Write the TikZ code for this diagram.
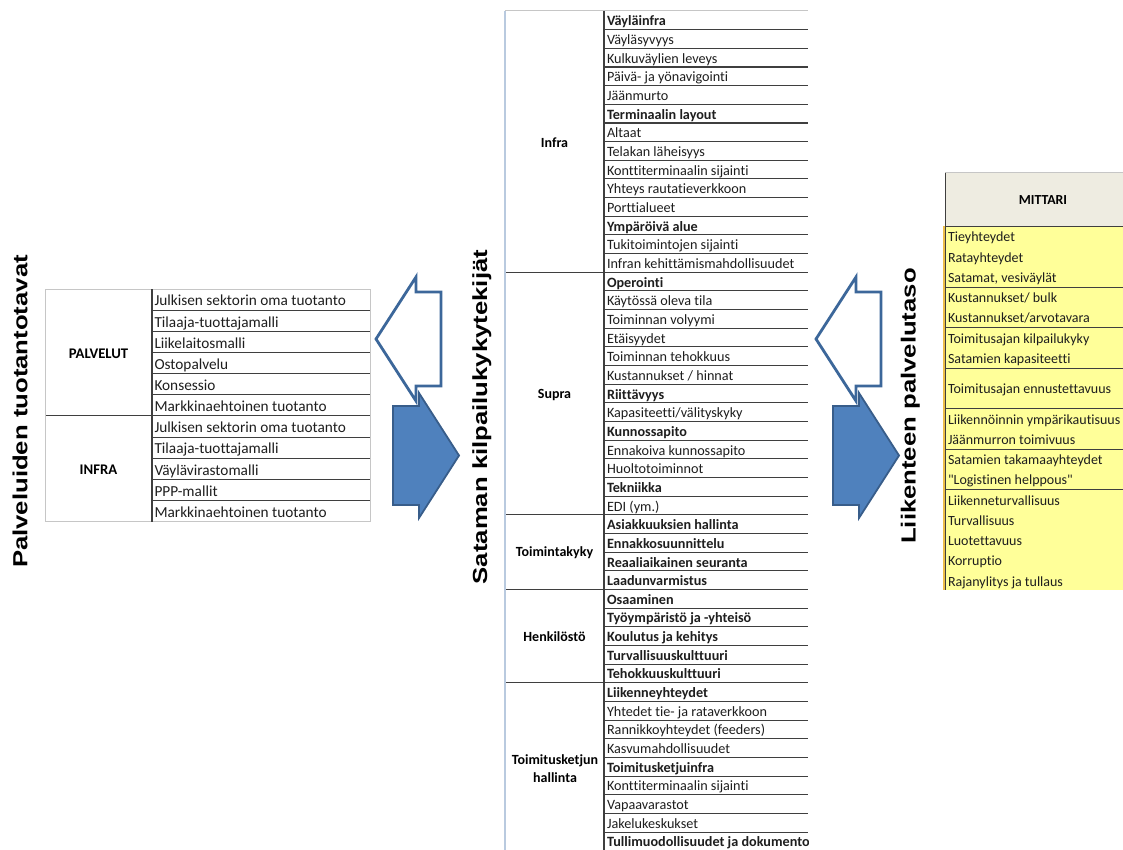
\documentclass[tikz,border=0pt]{standalone}
\usepackage{fontspec}
\setmainfont{Carlito}[Ligatures=NoCommon]
\newfontfamily\titlefont{Liberation Sans}
\usepackage{graphicx}

\definecolor{linedark}{HTML}{3F3F3F}
\definecolor{lightrule}{HTML}{C6C6C6}
\definecolor{leftblue}{HTML}{B9CADF}
\definecolor{txt}{HTML}{1E1E1E}
\definecolor{arrowedge}{HTML}{3C679A}
\definecolor{arrowdark}{HTML}{385D8A}
\definecolor{arrowfill}{HTML}{4F81BD}
\definecolor{yel}{HTML}{FFFF99}
\definecolor{hdrfill}{HTML}{EEECE1}
\definecolor{goldstrip}{HTML}{EDBE4A}

% straight double quote glyph, bypassing the TeX ligature mapping
\newcommand\straightdq{\XeTeXglyph\XeTeXcharglyph"22\relax}

\begin{document}
\begin{tikzpicture}[x=1pt,y=-1pt,
  every node/.style={inner sep=0pt, outer sep=0pt},
  lt/.style={anchor=base west, font=\fontsize{15.3}{18}\selectfont, text=txt},
  mt/.style={anchor=base west, font=\fontsize{14.2}{17}\selectfont, text=txt},
  rt/.style={anchor=base west, font=\fontsize{14}{17}\selectfont, text=txt},
  grp/.style={font=\bfseries\fontsize{14}{18}\selectfont, align=center, text=black},
  titletext/.style={rotate=90, anchor=base, font=\titlefont\bfseries\fontsize{20.4}{24}\selectfont, text=black},
  dk/.style={draw=linedark, line width=1.1pt},
  lg/.style={draw=lightrule, line width=1pt},
  hollowarrow/.style={draw=arrowedge, line width=2.8pt, fill=white, line join=miter},
  solidarrow/.style={draw=arrowdark, line width=1.8pt, fill=arrowfill, line join=miter}
]
\useasboundingbox (0,0) rectangle (1123,850);
\fill[white] (0,0) rectangle (1123,850);

% ---------- vertical titles ----------
\node[titletext] (tleft)  at (27.3,411.5) {\scalebox{1.26}[1]{Palveluiden tuotantotavat}};
\node[titletext] (tmid)   at (487,417)    {\scalebox{1.26}[1]{Sataman kilpailukykytekijät}};
\node[titletext] (tright) at (915.5,406)  {\scalebox{1.26}[1]{Liikenteen palvelutaso}};

% ---------- left table: production models ----------
\def\ly{289}\def\lh{21.15}
\foreach \t [count=\i] in {Julkisen sektorin oma tuotanto, Tilaaja-tuottajamalli, Liikelaitosmalli,
    Ostopalvelu, Konsessio, Markkinaehtoinen tuotanto, Julkisen sektorin oma tuotanto,
    Tilaaja-tuottajamalli, Väylävirastomalli, PPP-mallit, Markkinaehtoinen tuotanto}{
  \node[lt] (l\i) at (154.5,{\ly+\i*\lh-4.3}) {\t};
}
\foreach \i in {1,2,3,4,5,7,8,9,10}{
  \draw[dk] (152,{\ly+\i*\lh}) -- (370,{\ly+\i*\lh});
}
\draw[dk] (45,{\ly+6*\lh}) -- (370,{\ly+6*\lh});
\draw[lg] (45,\ly) -- (370,\ly) -- (370,{\ly+11*\lh}) -- (45,{\ly+11*\lh}) -- cycle;
\draw[dk] (152,\ly) -- (152,{\ly+11*\lh});
\node[grp, font=\bfseries\fontsize{14.7}{18}\selectfont] (palvelut) at (98.5,{\ly+3*\lh+1}) {PALVELUT};
\node[grp, font=\bfseries\fontsize{14.7}{18}\selectfont] (infraL) at (98.5,{\ly+8.5*\lh+1}) {INFRA};

% ---------- arrows between left and middle ----------
\draw[hollowarrow] (376,339) -- (416,277) -- (416,292) -- (441,292) -- (441,386) -- (416,386) -- (416,401) -- cycle;
\draw[solidarrow] (393,406) -- (419,406) -- (419,393) -- (459,455.5) -- (419,518) -- (419,505) -- (393,505) -- cycle;

% ---------- arrows between middle and right ----------
\begin{scope}[xshift=440pt]
\draw[hollowarrow] (376,339) -- (416,277) -- (416,292) -- (441,292) -- (441,386) -- (416,386) -- (416,401) -- cycle;
\draw[solidarrow] (393,406) -- (419,406) -- (419,393) -- (459,455.5) -- (419,518) -- (419,505) -- (393,505) -- cycle;
\end{scope}

% ---------- middle table: competitiveness factors ----------
\def\my{11}\def\mh{18.66}
\begin{scope}
\clip (500,0) rectangle (808,850);
\foreach \t [count=\i] in {
  {\bfseries Väyläinfra}, Väyläsyvyys, Kulkuväylien leveys, Päivä- ja yönavigointi, Jäänmurto,
  {\bfseries Terminaalin layout}, Altaat, Telakan läheisyys, Konttiterminaalin sijainti,
  Yhteys rautatieverkkoon, Porttialueet, {\bfseries Ympäröivä alue}, Tukitoimintojen sijainti,
  Infran kehittämismahdollisuudet,
  {\bfseries Operointi}, Käytössä oleva tila, Toiminnan volyymi, Etäisyydet, Toiminnan tehokkuus,
  Kustannukset / hinnat, {\bfseries Riittävyys}, Kapasiteetti/välityskyky, {\bfseries Kunnossapito},
  Ennakoiva kunnossapito, Huoltotoiminnot, {\bfseries Tekniikka}, EDI (ym.),
  {\bfseries Asiakkuuksien hallinta}, {\bfseries Ennakkosuunnittelu}, {\bfseries Reaaliaikainen seuranta},
  {\bfseries Laadunvarmistus},
  {\bfseries Osaaminen}, {\bfseries Työympäristö ja -yhteisö}, {\bfseries Koulutus ja kehitys},
  {\bfseries Turvallisuuskulttuuri}, {\bfseries Tehokkuuskulttuuri},
  {\bfseries Liikenneyhteydet}, Yhtedet tie- ja rataverkkoon, Rannikkoyhteydet (feeders),
  Kasvumahdollisuudet, {\bfseries Toimitusketjuinfra}, Konttiterminaalin sijainti, Vapaavarastot,
  Jakelukeskukset, {\bfseries Tullimuodollisuudet ja dokumento}}{
  \node[mt] (m\i) at (607,{\my+\i*\mh-3.8}) {\t};
}
\foreach \i in {1,...,44}{
  \draw[dk] (604,{\my+\i*\mh}) -- (808,{\my+\i*\mh});
}
\foreach \i in {14,27,31,36}{
  \draw[dk] (505,{\my+\i*\mh}) -- (808,{\my+\i*\mh});
}
\draw[lg] (505,\my) -- (808,\my);
\draw[draw=leftblue, line width=1.2pt] (505,\my) -- (505,850);
\draw[dk, line width=1.3pt] (604,\my) -- (604,850);
\end{scope}
\node[grp] (gInfra)  at (554.5,{\my+7*\mh+1})    {Infra};
\node[grp] (gSupra)  at (554.5,{\my+20.5*\mh+1}) {Supra};
\node[grp] (gToim)   at (554.5,{\my+29*\mh+1})   {Toimintakyky};
\node[grp] (gHenk)   at (554.5,{\my+33.5*\mh+1}) {Henkilöstö};
\node[grp] (gKetju)  at (555,769) {Toimitusketjun\\hallinta};

% ---------- right table: service level indicators ----------
\def\ry{226.5}\def\rh{20.25}
\fill[hdrfill] (945,173) rectangle (1123,\ry);
\fill[yel] (945,\ry) rectangle (1123,590);
\fill[goldstrip] (942.5,\ry) rectangle (945,590);
\draw[lg] (945,173) -- (1123,173);
\draw[dk] (945,\ry) -- (1123,\ry);
\foreach \i in {3,5,7,9,11,13}{
  \draw[dk] (945,{\ry+\i*\rh}) -- (1123,{\ry+\i*\rh});
}
\draw[dk] (945.5,173) -- (945.5,590);
\node[grp, font=\bfseries\fontsize{13.8}{16}\selectfont] (mittari) at (1043,200) {MITTARI};
\begin{scope}
\clip (940,160) rectangle (1123,600);
\node[rt] (r1)  at (948,{\ry+0*\rh+15.3})   {Tieyhteydet};
\node[rt] (r2)  at (948,{\ry+1*\rh+15.3})   {Ratayhteydet};
\node[rt] (r3)  at (948,{\ry+2*\rh+15.3})   {Satamat, vesiväylät};
\node[rt] (r4)  at (948,{\ry+3*\rh+15.3})   {Kustannukset/ bulk};
\node[rt] (r5)  at (948,{\ry+4*\rh+15.3})   {Kustannukset/arvotavara};
\node[rt] (r6)  at (948,{\ry+5*\rh+15.3})   {Toimitusajan kilpailukyky};
\node[rt] (r7)  at (948,{\ry+6*\rh+15.3})   {Satamien kapasiteetti};
\node[rt] (r8)  at (948,{\ry+7.5*\rh+15.3}) {Toimitusajan ennustettavuus};
\node[rt] (r9)  at (948,{\ry+9*\rh+15.3})   {Liikennöinnin ympärikautisuus};
\node[rt] (r10) at (948,{\ry+10*\rh+15.3})  {Jäänmurron toimivuus};
\node[rt] (r11) at (948,{\ry+11*\rh+15.3})  {Satamien takamaayhteydet};
\node[rt] (r12) at (948,{\ry+12*\rh+15.3})  {\straightdq Logistinen helppous\straightdq};
\node[rt] (r13) at (948,{\ry+13*\rh+15.3})  {Liikenneturvallisuus};
\node[rt] (r14) at (948,{\ry+14*\rh+15.3})  {Turvallisuus};
\node[rt] (r15) at (948,{\ry+15*\rh+15.3})  {Luotettavuus};
\node[rt] (r16) at (948,{\ry+16*\rh+15.3})  {Korruptio};
\node[rt] (r17) at (948,{\ry+17*\rh+15.3})  {Rajanylitys ja tullaus};
\end{scope}
\end{tikzpicture}
\end{document}
